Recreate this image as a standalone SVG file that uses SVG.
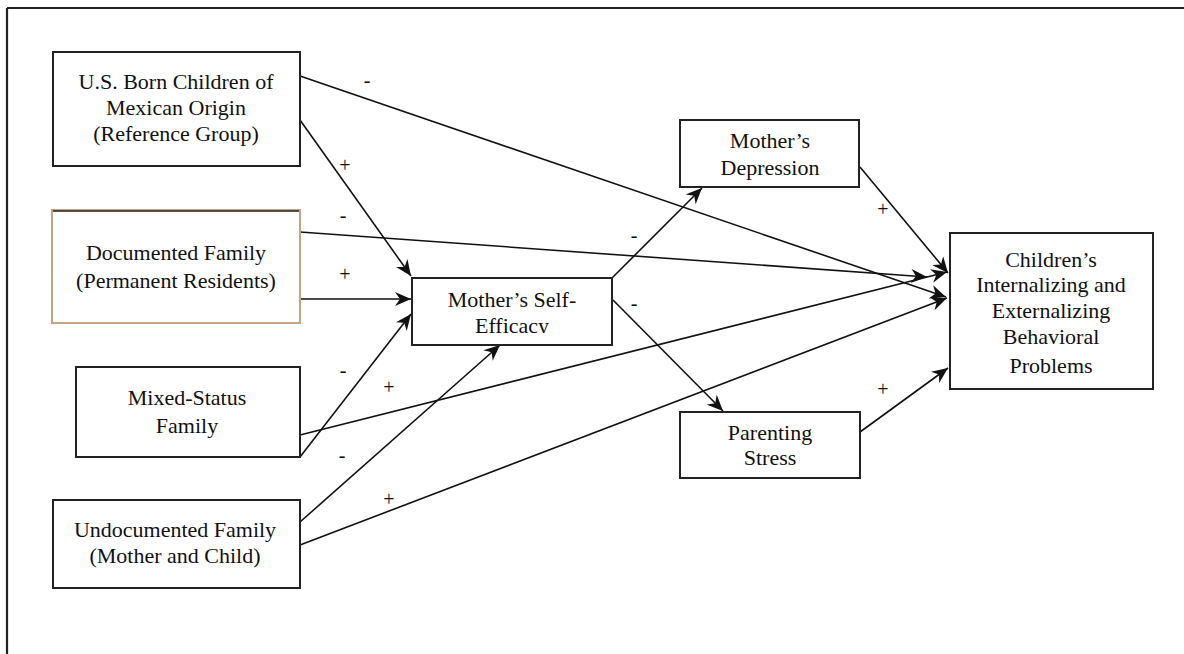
<svg xmlns="http://www.w3.org/2000/svg" width="1184" height="654" viewBox="0 0 1184 654">
<style>
.box{fill:#fff;stroke:#222;stroke-width:2}
.t{font-family:"Liberation Serif","Times New Roman",serif;font-size:22px;fill:#111;text-anchor:middle}
.lbl{font-family:"Liberation Serif","Times New Roman",serif;font-size:20px;fill:#111;text-anchor:middle}
.c{fill:none;stroke:#111;stroke-width:1.6}
</style>
<defs>
<marker id="ah" markerUnits="userSpaceOnUse" markerWidth="18" markerHeight="14" refX="16" refY="7" orient="auto" viewBox="0 0 18 14">
<path d="M0,0 L16,7 L0,14 L5,7 Z" fill="#111"/>
</marker>
<clipPath id="seclip"><rect x="412" y="278" width="200" height="55"/></clipPath>
</defs>
<rect width="1184" height="654" fill="#fff"/>
<g id="frame">
<line x1="7" y1="8" x2="1184" y2="8" stroke="#222" stroke-width="2.2"/>
<line x1="7" y1="8" x2="7" y2="654" stroke="#222" stroke-width="2.2"/>
</g>
<g id="connectors">
<line class="c" x1="300" y1="76" x2="946" y2="297" marker-end="url(#ah)"/>
<line class="c" x1="300" y1="120" x2="411" y2="276" marker-end="url(#ah)"/>
<line class="c" x1="300" y1="232" x2="927" y2="277" marker-end="url(#ah)"/>
<line class="c" x1="300" y1="299" x2="411" y2="299" marker-end="url(#ah)"/>
<line class="c" x1="300" y1="435" x2="947" y2="272" marker-end="url(#ah)"/>
<line class="c" x1="300" y1="457" x2="411" y2="314" marker-end="url(#ah)"/>
<line class="c" x1="300" y1="522" x2="500" y2="345" marker-end="url(#ah)"/>
<line class="c" x1="300" y1="545" x2="947" y2="298" marker-end="url(#ah)"/>
<line class="c" x1="612" y1="278" x2="702" y2="188" marker-end="url(#ah)"/>
<line class="c" x1="613" y1="300" x2="723" y2="411" marker-end="url(#ah)"/>
<line class="c" x1="860" y1="167" x2="948" y2="273" marker-end="url(#ah)"/>
<line class="c" x1="860" y1="432" x2="948" y2="368" marker-end="url(#ah)"/>
</g>
<g id="labels">
<text class="lbl" x="367" y="87">-</text>
<text class="lbl" x="345" y="172">+</text>
<text class="lbl" x="343" y="222">-</text>
<text class="lbl" x="345" y="281">+</text>
<text class="lbl" x="343" y="377">-</text>
<text class="lbl" x="389" y="394">+</text>
<text class="lbl" x="342" y="462">-</text>
<text class="lbl" x="389" y="506">+</text>
<text class="lbl" x="634" y="242">-</text>
<text class="lbl" x="634" y="310">-</text>
<text class="lbl" x="883" y="216">+</text>
<text class="lbl" x="883" y="396">+</text>
</g>
<g id="usborn">
<rect class="box" x="53" y="52" width="247" height="114"/>
<text class="t" x="176" y="89">U.S. Born Children of</text>
<text class="t" x="176" y="115">Mexican Origin</text>
<text class="t" x="176" y="141">(Reference Group)</text>
</g>
<g id="documented">
<rect x="52" y="210" width="248" height="113" fill="#fff" stroke="#c4a287" stroke-width="2"/>
<line x1="53" y1="211" x2="299" y2="211" stroke="#222" stroke-width="1.6"/>
<text class="t" x="176" y="260">Documented Family</text>
<text class="t" x="176" y="288">(Permanent Residents)</text>
</g>
<g id="mixed">
<rect class="box" x="76" y="367" width="224" height="90"/>
<text class="t" x="187" y="405">Mixed-Status</text>
<text class="t" x="187" y="433">Family</text>
</g>
<g id="undocumented">
<rect class="box" x="53" y="500" width="247" height="88"/>
<text class="t" x="175" y="537">Undocumented Family</text>
<text class="t" x="175" y="563">(Mother and Child)</text>
</g>
<g id="selfefficacy">
<rect class="box" x="412" y="278" width="200" height="67"/>
<text class="t" x="512" y="307">Mother’s Self-</text>
<text class="t" x="512" y="333" clip-path="url(#seclip)">Efficacy</text>
</g>
<g id="depression">
<rect class="box" x="680" y="120" width="179" height="67"/>
<text class="t" x="770" y="148">Mother’s</text>
<text class="t" x="770" y="175">Depression</text>
</g>
<g id="parenting">
<rect class="box" x="680" y="412" width="180" height="66"/>
<text class="t" x="770" y="440">Parenting</text>
<text class="t" x="770" y="465">Stress</text>
</g>
<g id="children">
<rect class="box" x="950" y="233" width="203" height="156"/>
<text class="t" x="1051" y="267">Children’s</text>
<text class="t" x="1051" y="292">Internalizing and</text>
<text class="t" x="1051" y="318">Externalizing</text>
<text class="t" x="1051" y="344">Behavioral</text>
<text class="t" x="1051" y="373">Problems</text>
</g>
</svg>
